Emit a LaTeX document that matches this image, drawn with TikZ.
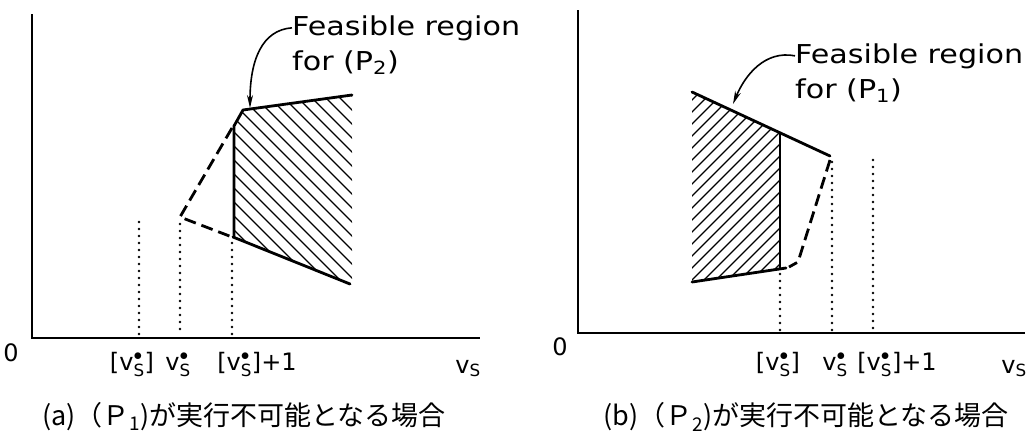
\documentclass[tikz,border=0pt]{standalone}
\usepackage{fontspec}
\setmainfont{DejaVu Sans}
\newfontfamily\annfont{DejaVu Sans}[FakeStretch=1.16]
\newfontfamily\cjk{Noto Sans CJK JP}
\usetikzlibrary{arrows.meta}
\newcommand\vsz{v$_{\mathrm{S}}^{\bullet}$}
\begin{document}
\begin{tikzpicture}[x=1pt,y=-1pt,
  axis/.style={line width=2.4pt},
  edge/.style={line width=2.8pt, line cap=round, line join=round},
  dashedge/.style={line width=2.8pt, dash pattern=on 12pt off 6pt, line join=round},
  dotline/.style={line width=2.6pt, line cap=round, dash pattern=on 0pt off 7pt},
  hatchline/.style={line width=1.3pt},
  lbl/.style={font=\fontsize{24}{27}\selectfont, inner sep=0pt, anchor=base},
  ann/.style={font=\annfont\fontsize{26}{30}\selectfont, inner sep=0pt, anchor=base west},
  capt/.style={font=\cjk\fontsize{27}{30}\selectfont, inner sep=0pt, anchor=west},
  pointer/.style={line width=1.6pt, -{Stealth[length=13pt,width=6pt]}}]
\useasboundingbox (0,0) rectangle (1034,434);

% ---------------- panel (a) ----------------
\draw[axis] (32,14) -- (32,338) -- (480,338);
\node[lbl] (zeroA) at (11,361) {0};
\draw[dotline] (139,222) -- (139,336);
\draw[dotline] (180,224) -- (180,336);
\draw[dotline] (232,243) -- (232,336);
\begin{scope}
  \clip (235,125) -- (243,110) -- (352,95) -- (352,284) -- (233,237) -- cycle;
  \foreach \c in {-66,-52,...,270} \draw[hatchline] (\c,0) -- ++(420,420);
\end{scope}
\draw[edge] (234,237) -- (234,126) -- (243,110) -- (352,95);
\draw[edge] (233,237) -- (350,284);
\draw[dashedge] (232,128) -- (180,217) -- (232,237);
\node[lbl] (tA1) at (132,370) {[\vsz]};
\node[lbl] (tA2) at (178,370) {\vsz};
\node[lbl] (tA3) at (257,370) {[\vsz]+1};
\node[lbl] (xA) at (468,373) {v$_{\mathrm{S}}$};
\node[ann] (fA1) at (292,35) {Feasible region};
\node[ann] (fA2) at (292,70) {for (P\textsubscript{2})};
\coordinate (tipA) at (250,108);
\draw[pointer] (fA1.west) .. controls (262,30) and (250,60) .. (tipA);
\node[capt] (capA) at (42,417) {(a)（Ｐ\textsubscript{1})が実行不可能となる場合};

% ---------------- panel (b) ----------------
\draw[axis] (578,10) -- (578,333) -- (1025,333);
\node[lbl] (zeroB) at (560,355) {0};
\draw[dotline] (780,274) -- (780,331);
\draw[dotline] (832,162) -- (832,331);
\draw[dotline] (873,160) -- (873,331);
\begin{scope}
  \clip (692,92) -- (780,133) -- (780,268) -- (692,282) -- cycle;
  \foreach \c in {780,792,...,1080} \draw[hatchline] (\c,0) -- ++(-420,420);
\end{scope}
\draw[edge] (692,92) -- (830,156);
\draw[edge] (780,133) -- (780,268);
\draw[edge] (692,282) -- (786,268);
\draw[dashedge] (830,160) -- (798,262) -- (789,267);
\node[lbl] (tB1) at (778,370) {[\vsz]};
\node[lbl] (tB2) at (835,370) {\vsz};
\node[lbl] (tB3) at (897,370) {[\vsz]+1};
\node[lbl] (xB) at (1014,373) {v$_{\mathrm{S}}$};
\node[ann] (fB1) at (795,63) {Feasible region};
\node[ann] (fB2) at (795,98) {for (P\textsubscript{1})};
\coordinate (tipB) at (733,104);
\draw[pointer] (fB1.west) .. controls (765,50) and (745,75) .. (tipB);
\node[capt] (capB) at (603,417) {(b)（Ｐ\textsubscript{2})が実行不可能となる場合};
\end{tikzpicture}
\end{document}
